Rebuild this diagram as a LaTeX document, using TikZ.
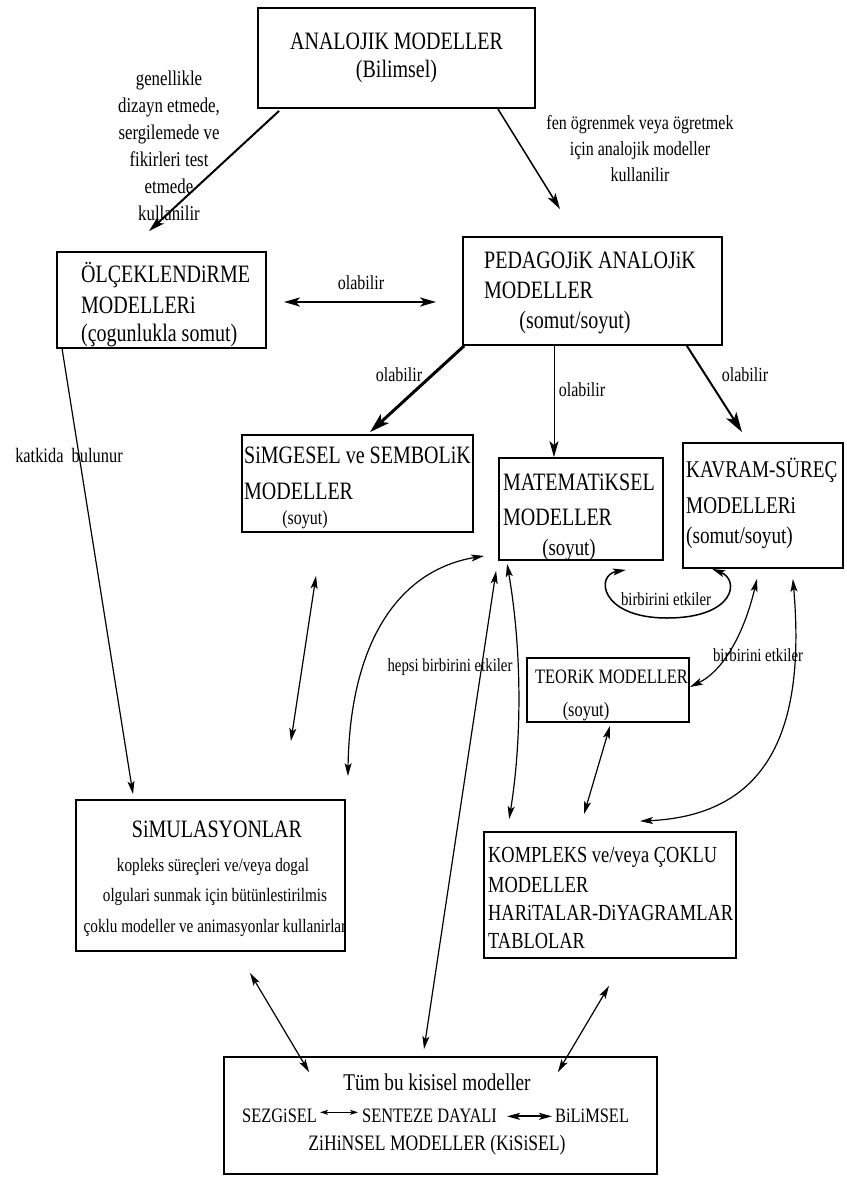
\documentclass[tikz,border=0pt]{standalone}
\usepackage{fontspec}
\setmainfont{Liberation Serif}[FakeStretch=0.8]
\usetikzlibrary{arrows.meta,calc,fit}
\tikzset{
  hA/.tip={Stealth[length=13pt,width=7pt,inset=3pt]},
  hB/.tip={Stealth[length=16pt,width=9pt,inset=4pt]},
  hC/.tip={Stealth[length=20pt,width=12pt,inset=5pt]},
  hS/.tip={Stealth[length=8pt,width=5pt,inset=2pt]},
  box/.style={draw, line width=1.8pt, inner sep=0pt},
  tx/.style={inner sep=0pt, font=\fontsize{#1}{#1}\selectfont},
  lab/.style 2 args={inner sep=0pt, align=center, font=\fontsize{#1}{#2}\selectfont},
  c1/.style={line width=1.2pt},
}
\begin{document}
\begin{tikzpicture}[x=1pt,y=-1pt]
\useasboundingbox (0,0) rectangle (846,1177);
% boxes
\node[box, fit={(258,8) (535,108)}] (A) {};
\node[box, fit={(57,252) (266,348)}] (O) {};
\node[box, fit={(463,237) (722,345)}] (P) {};
\node[box, fit={(242,435) (473,532)}] (S) {};
\node[box, fit={(499,458) (663,560)}] (M) {};
\node[box, fit={(683,443) (843,568)}] (K) {};
\node[box, fit={(527,658) (689,722)}] (T) {};
\node[box, fit={(76,800) (345,951)}] (Si) {};
\node[box, fit={(484,832) (736,958)}] (C) {};
\node[box, fit={(224,1057) (657,1174)}] (U) {};
% box texts
\node[tx=25, anchor=base] (a1) at (396.5,50) {ANALOJIK MODELLER};
\node[tx=25, anchor=base] (a2) at (396.5,78) {(Bilimsel)};
\node[tx=25, anchor=base west] (o1) at (81,282) {ÖLÇEKLENDiRME};
\node[tx=25, anchor=base west] (o2) at (81,313) {MODELLERi};
\node[tx=25, anchor=base west] (o3) at (81,341) {(çogunlukla somut)};
\node[tx=25, anchor=base west] (p1) at (484,268) {PEDAGOJiK ANALOJiK};
\node[tx=25, anchor=base west] (p2) at (484,298) {MODELLER};
\node[tx=25, anchor=base] (p3) at (575,328) {(somut/soyut)};
\node[tx=25, anchor=base west] (s1) at (244,463) {SiMGESEL ve SEMBOLiK};
\node[tx=25, anchor=base west] (s2) at (244,499) {MODELLER};
\node[tx=20, anchor=base] (s3) at (305,524) {(soyut)};
\node[tx=25, anchor=base west] (m1) at (503,490) {MATEMATiKSEL};
\node[tx=25, anchor=base west] (m2) at (503,525) {MODELLER};
\node[tx=23.5, anchor=base] (m3) at (569,555) {(soyut)};
\node[tx=24, anchor=base west] (k1) at (686,477) {KAVRAM-SÜREÇ};
\node[tx=24, anchor=base west] (k2) at (686,513) {MODELLERi};
\node[tx=24, anchor=base west] (k3) at (686,543) {(somut/soyut)};
\node[tx=20.5, anchor=base west] (t1) at (535,683) {TEORiK MODELLER};
\node[tx=20.5, anchor=base] (t2) at (586,716) {(soyut)};
\node[tx=25, anchor=base] (si1) at (217,837) {SiMULASYONLAR};
\node[tx=19, anchor=base] (si2) at (213,871) {kopleks süreçleri ve/veya dogal};
\node[tx=19, anchor=base] (si3) at (215,901) {olgulari sunmak için bütünlestirilmis};
\node[tx=19, anchor=base] (si4) at (215,932) {çoklu modeller ve animasyonlar kullanirlar};
\node[tx=23, anchor=base west] (c1) at (488,862) {KOMPLEKS ve/veya ÇOKLU};
\node[tx=23, anchor=base west] (c2) at (488,892) {MODELLER};
\node[tx=23, anchor=base west] (c3) at (488,920) {HARiTALAR-DiYAGRAMLAR};
\node[tx=23, anchor=base west] (c4) at (488,948) {TABLOLAR};
\node[tx=24, anchor=base] (u1) at (437,1090) {Tüm bu kisisel modeller};
\node[tx=20.5, anchor=base west] (sez) at (242,1122) {SEZGiSEL};
\node[tx=20.5, anchor=base west] (sen) at (362,1122) {SENTEZE DAYALI};
\node[tx=20.5, anchor=base west] (bil) at (555,1122) {BiLiMSEL};
\node[tx=22, anchor=base] (u3) at (437,1150) {ZiHiNSEL MODELLER (KiSiSEL)};
\draw[line width=1pt, hS-hS] ($(sez.east)+(3,-3)$) -- ($(sen.west)+(-4,-3)$);
\draw[line width=1.8pt, hA-hA] ($(sen.east)+(10,1)$) -- ($(bil.west)+(-3,1)$);
% labels
\node[lab={21}{27}] (lg) at (169,146) {genellikle\\dizayn etmede,\\sergilemede ve\\fikirleri test\\etmede\\kullanilir};
\node[lab={20}{26}] (lf) at (640,149) {fen ögrenmek veya ögretmek\\için analojik modeller\\kullanilir};
\node[lab={20}{24}] (l1) at (361,283) {olabilir};
\node[lab={20}{24}] (l2) at (399,375) {olabilir};
\node[lab={20}{24}] (l3) at (582,390) {olabilir};
\node[lab={20}{24}] (l4) at (745,375) {olabilir};
\node[lab={20.5}{24}] (lk) at (69,455) {katkida\ \ bulunur};
\node[lab={18.5}{22}] (lb1) at (666,599) {birbirini etkiler};
\node[lab={18.5}{22}] (lb2) at (758,655) {birbirini etkiler};
\node[lab={18.5}{22}] (lh) at (450,667) {hepsi birbirini etkiler};
% connectors
\draw[line width=2pt, -hB] ($(A.south west)+(22,2)$) -- ($(O.north)+(-12.5,-20)$);
\draw[line width=1.5pt, -hB] ($(A.south east)+(-38,0)$) -- ($(P.north)+(-32.5,-27)$);
\draw[line width=2pt, hB-hB] ($(O.east)+(17,2)$) -- ($(P.west)+(-26,11)$);
\draw[line width=3pt, -hC] ($(P.south west)+(2,0)$) -- ($(S.north)+(12.5,-2)$);
\draw[line width=1pt, -hB] ($(P.south)+(-38.5,0)$) -- ($(M.north)+(-27,0)$);
\draw[line width=2pt, -hC] ($(P.south east)+(-36,0)$) -- ($(K.north)+(-21,-10)$);
\draw[c1, -hA] ($(O.south west)+(6,0)$) -- ($(Si.north)+(-77.5,-5)$);
\draw[c1, hA-hA] ($(S.south)+(-41.5,43)$) -- ($(Si.north east)+(-55,-58)$);
\draw[c1, hA-hA] ($(Si.north east)+(2,-23)$) .. controls (350,640) and (400,570) .. ($(M.south west)+(-14,-5)$);
\draw[c1, hA-hA] ($(M.south west)+(-2,10)$) -- ($(U.north)+(-16.5,-7)$);
\draw[c1, hA-hA] ($(M.south west)+(9,3)$) .. controls (522,650) and (522,740) .. ($(C.north west)+(26,-12)$);
\coordinate (loopB) at (667,618);
\draw[line width=1.5pt, hA-hA] ($(M.south east)+(-38,9)$) .. controls (595,575) and (600,618) .. (loopB) .. controls (735,618) and (740,580) .. ($(K.south west)+(30,0)$);
\draw[c1, hA-hA] ($(K.south)+(-6,10)$) .. controls (745,630) and (725,670) .. ($(T.east)+(0,-3)$);
\draw[c1, hA-hA] ($(K.south east)+(-51,10)$) .. controls (805,720) and (775,815) .. ($(C.north)+(30,-10)$);
\draw[c1, hA-hA] ($(T.south)+(2,3)$) -- ($(C.north)+(-26,-17)$);
\draw[c1, hA-hA] ($(Si.south)+(39.5,21)$) -- ($(U.north west)+(86,16)$);
\draw[c1, hA-hA] ($(C.south)+(-1,27)$) -- ($(U.north east)+(-100,16)$);
\end{tikzpicture}
\end{document}
